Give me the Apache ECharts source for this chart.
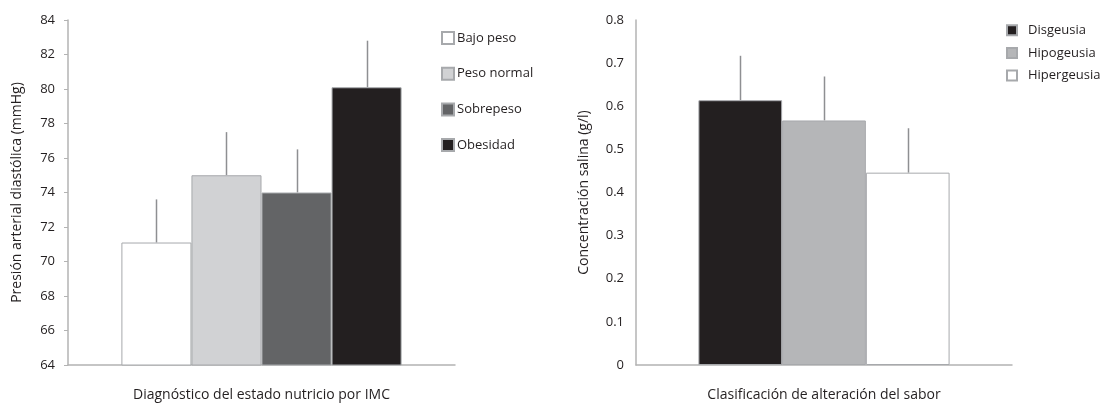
<!DOCTYPE html>
<html><head><meta charset="utf-8">
<script src="https://cdn.jsdelivr.net/npm/echarts@6/dist/echarts.min.js"></script>
<style>html,body{margin:0;padding:0;background:#fff}#c{width:1106px;height:406px}</style>
</head><body><div id="c"></div>
<script>
// Left chart data
const imcNames = ['Bajo peso', 'Peso normal', 'Sobrepeso', 'Obesidad'];
const imcMeans = [71.1, 75.0, 74.0, 80.1];
const imcSD = [2.5, 2.5, 2.5, 2.7];
const imcColors = ['#ffffff', '#d1d2d4', '#636466', '#231f20'];
const imcTicks = [64, 84, 2];

// Right chart data
const saborNames = ['Disgeusia', 'Hipogeusia', 'Hipergeusia'];
const saborMeans = [0.614, 0.567, 0.446];
const saborSD = [0.103, 0.102, 0.103];
const saborColors = ['#231f20', '#b5b6b8', '#ffffff'];
const saborTicks = [0, 0.8, 0.1];

const FONT = 'Open Sans';
const axisGrey = '#b3b3b3';
const borderGrey = '#a7a9ac';
const errGrey = '#8e8f92';

const chart = echarts.init(document.getElementById('c'), null, {renderer: 'canvas'});

const GAP0 = 0.276, GAP1 = 0.332;

function barSeries(names, means, colors, axisIdx, gap) {
  return names.map((n, i) => ({
    name: n, type: 'bar', xAxisIndex: axisIdx, yAxisIndex: axisIdx,
    data: [means[i]], barGap: '0%',
    barCategoryGap: (gap * 100) + '%',
    itemStyle: {color: colors[i], borderColor: borderGrey, borderWidth: 1},
    silent: true, animation: false
  }));
}
function errSeries(means, sds, axisIdx, gapFrac) {
  const n = means.length;
  return means.map((m, i) => ({
    type: 'custom', xAxisIndex: axisIdx, yAxisIndex: axisIdx,
    data: [[0, m, m + sds[i]]], silent: true, animation: false, z: 1,
    renderItem: function (params, api) {
      const p0 = api.coord([api.value(0), api.value(1)]);
      const p1 = api.coord([api.value(0), api.value(2)]);
      const catW = api.size([1, 0])[0];
      const bw = catW * (1 - gapFrac) / n;
      const x = Math.round(p0[0] - n * bw / 2 + (i + 0.5) * bw) + 0.5;
      return {type: 'line', shape: {x1: x, y1: p0[1], x2: x, y2: p1[1]},
        style: {stroke: errGrey, lineWidth: 1.5}};
    }
  }));
}

const tick = {fontFamily: FONT, fontSize: 13, color: '#231f20'};
const title = {fontFamily: FONT, fontSize: 14, color: '#231f20'};

chart.setOption({
  animation: false,
  backgroundColor: '#fff',
  grid: [
    {left: 68, top: 20, width: 387, height: 345, outerBoundsMode: 'none', containLabel: false},
    {left: 636, top: 20, width: 376, height: 345, outerBoundsMode: 'none', containLabel: false}
  ],
  legend: [
    {data: imcNames, orient: 'vertical', left: 436, top: 26, itemWidth: 12, itemHeight: 12,
      itemGap: 21.7, icon: 'rect',
      textStyle: Object.assign({}, tick, {lineHeight: 12, padding: [0, 0, 0, -2]}), selectedMode: false},
    {data: saborNames, orient: 'vertical', left: 1001, top: 18.7, itemWidth: 10, itemHeight: 10,
      itemGap: 9.7, icon: 'rect',
      textStyle: Object.assign({}, tick, {lineHeight: 10, padding: [0, 0, 0, 6]}), selectedMode: false}
  ],
  xAxis: [
    {type: 'category', gridIndex: 0, data: [''], axisTick: {show: false}, axisLabel: {show: false},
      axisLine: {lineStyle: {color: axisGrey, width: 1.5}},
      name: 'Diagnóstico del estado nutricio por IMC', nameLocation: 'middle', nameGap: 23,
      nameTextStyle: Object.assign({}, title, {verticalAlign: 'top'})},
    {type: 'category', gridIndex: 1, data: [''], axisTick: {show: false}, axisLabel: {show: false},
      axisLine: {lineStyle: {color: axisGrey, width: 1.5}},
      name: 'Clasificación de alteración del sabor', nameLocation: 'middle', nameGap: 23,
      nameTextStyle: Object.assign({}, title, {verticalAlign: 'top'})}
  ],
  yAxis: [
    {type: 'value', gridIndex: 0, min: imcTicks[0], max: imcTicks[1], interval: imcTicks[2],
      splitLine: {show: false},
      axisLine: {show: true, lineStyle: {color: axisGrey, width: 1.5}},
      axisTick: {show: true, length: 4, lineStyle: {color: axisGrey}},
      axisLabel: Object.assign({}, tick, {margin: 13}),
      name: 'Presión arterial diastólica (mmHg)', nameLocation: 'middle', nameGap: 44,
      nameTextStyle: title},
    {type: 'value', gridIndex: 1, min: saborTicks[0], max: saborTicks[1], interval: saborTicks[2],
      splitLine: {show: false},
      axisLine: {show: true, lineStyle: {color: axisGrey, width: 1.5}},
      axisTick: {show: false},
      axisLabel: Object.assign({}, tick, {margin: 12}),
      name: 'Concentración salina (g/l)', nameLocation: 'middle', nameGap: 45,
      nameTextStyle: title}
  ],
  series: [].concat(
    barSeries(imcNames, imcMeans, imcColors, 0, GAP0),
    barSeries(saborNames, saborMeans, saborColors, 1, GAP1),
    errSeries(imcMeans, imcSD, 0, GAP0),
    errSeries(saborMeans, saborSD, 1, GAP1)
  )
});
</script></body></html>
